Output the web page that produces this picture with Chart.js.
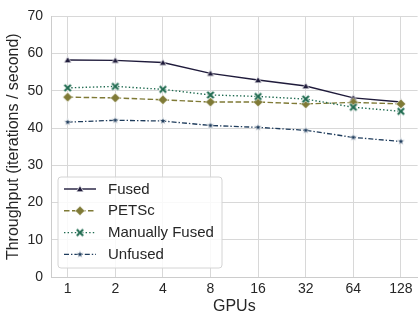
<!DOCTYPE html>
<html><head><meta charset="utf-8">
<script src="https://cdn.jsdelivr.net/npm/chart.js@4/dist/chart.umd.min.js"></script>
<style>html,body{margin:0;padding:0;background:#fff;overflow:hidden;width:420px;height:317px}canvas{display:block}</style>
</head><body>
<canvas id="c" width="424" height="317" style="width:424px;height:317px"></canvas>
<script>
const gpuLabels = ['1', '2', '4', '8', '16', '32', '64', '128'];
const seriesNames = ['Fused', 'PETSc', 'Manually Fused', 'Unfused'];
const fused = [58.3, 58.2, 57.6, 54.7, 52.9, 51.3, 48.1, 47.0];
const petsc = [48.3, 48.1, 47.6, 47.0, 47.0, 46.5, 46.9, 46.5];
const manuallyFused = [50.8, 51.2, 50.4, 48.9, 48.5, 47.8, 45.6, 44.5];
const unfused = [41.6, 42.1, 41.9, 40.7, 40.2, 39.4, 37.5, 36.4];
const yTicks = [0, 10, 20, 30, 40, 50, 60, 70];

const FONT = '"Liberation Sans", Arial, sans-serif';
const TXT = '#262626';
Chart.defaults.font.family = FONT;

function marker(kind, color) {
  const s = 16, c = document.createElement('canvas');
  c.width = s; c.height = s;
  const g = c.getContext('2d'), m = s / 2;
  g.beginPath();
  if (kind === 'tri') {
    g.moveTo(m, m - 3.4); g.lineTo(m + 3.6, m + 2.8); g.lineTo(m - 3.6, m + 2.8); g.closePath();
  } else if (kind === 'dia') {
    const r = 4.8;
    g.moveTo(m, m - r); g.lineTo(m + r, m); g.lineTo(m, m + r); g.lineTo(m - r, m); g.closePath();
  } else if (kind === 'x') {
    const a = 4.6, w = 1.25;
    const pts = [[w,a],[w,w],[a,w],[a,-w],[w,-w],[w,-a],[-w,-a],[-w,-w],[-a,-w],[-a,w],[-w,w],[-w,a]];
    const k = Math.SQRT1_2;
    pts.forEach((p, i) => {
      const x = m + (p[0] - p[1]) * k, y = m + (p[0] + p[1]) * k;
      if (i === 0) g.moveTo(x, y); else g.lineTo(x, y);
    });
    g.closePath();
  } else if (kind === 'star') {
    const R = 3.9, r = 1.6;
    for (let i = 0; i < 10; i++) {
      const ang = -Math.PI / 2 + i * Math.PI / 5, rr = i % 2 ? r : R;
      const x = m + rr * Math.cos(ang), y = m + rr * Math.sin(ang);
      if (i === 0) g.moveTo(x, y); else g.lineTo(x, y);
    }
    g.closePath();
  }
  g.fillStyle = color; g.fill();
  g.strokeStyle = '#ffffff'; g.lineWidth = 0.7; g.stroke();
  return c;
}

const styles = [
  { color: '#1f1b3b', dash: [], width: 1.4, mk: 'tri' },
  { color: '#7f7a36', dash: [5.5, 2.5], width: 1.4, mk: 'dia' },
  { color: '#1e6a4f', dash: [1.4, 2.2], width: 1.4, mk: 'x' },
  { color: '#1f3c5c', dash: [5, 2, 1.4, 2], width: 1.3, mk: 'star' }
];
const values = [fused, petsc, manuallyFused, unfused];

const datasets = values.map((arr, i) => ({
  label: seriesNames[i],
  data: arr.map((v, j) => ({ x: j, y: v })),
  borderColor: styles[i].color,
  backgroundColor: styles[i].color,
  borderWidth: styles[i].width,
  borderDash: styles[i].dash,
  pointStyle: marker(styles[i].mk, styles[i].color),
  pointRadius: 5,
  pointHoverRadius: 5,
  fill: false,
  tension: 0,
  order: values.length - i
}));

const legendPlugin = {
  id: 'customLegend',
  afterDraw(chart) {
    const ctx = chart.ctx, ca = chart.chartArea;
    const x0 = ca.left + 7, y0 = ca.bottom - 100, w = 164, h = 91, rad = 3;
    ctx.save();
    ctx.beginPath();
    ctx.moveTo(x0 + rad, y0); ctx.lineTo(x0 + w - rad, y0); ctx.arcTo(x0 + w, y0, x0 + w, y0 + rad, rad);
    ctx.lineTo(x0 + w, y0 + h - rad); ctx.arcTo(x0 + w, y0 + h, x0 + w - rad, y0 + h, rad);
    ctx.lineTo(x0 + rad, y0 + h); ctx.arcTo(x0, y0 + h, x0, y0 + h - rad, rad);
    ctx.lineTo(x0, y0 + rad); ctx.arcTo(x0, y0, x0 + rad, y0, rad); ctx.closePath();
    ctx.fillStyle = 'rgba(255,255,255,0.85)'; ctx.fill();
    ctx.strokeStyle = '#d4d4d4'; ctx.lineWidth = 1; ctx.stroke();
    chart.data.datasets.forEach((ds, i) => {
      const y = y0 + 12 + i * 21.8;
      ctx.beginPath();
      ctx.setLineDash(ds.borderDash);
      ctx.strokeStyle = ds.borderColor; ctx.lineWidth = ds.borderWidth;
      ctx.moveTo(x0 + 6, y); ctx.lineTo(x0 + 38, y); ctx.stroke();
      ctx.setLineDash([]);
      const img = ds.pointStyle;
      ctx.drawImage(img, x0 + 22 - img.width / 2, y - img.height / 2);
      ctx.fillStyle = TXT; ctx.font = '15px ' + FONT;
      ctx.textBaseline = 'middle'; ctx.textAlign = 'left';
      ctx.fillText(ds.label, x0 + 50, y + 0.5);
    });
    ctx.restore();
  }
};

new Chart(document.getElementById('c'), {
  type: 'line',
  data: { datasets },
  options: {
    responsive: false,
    animation: false,
    layout: { padding: { top: 12, left: 0, right: 1, bottom: 0 } },
    plugins: { legend: { display: false }, tooltip: { enabled: false } },
    scales: {
      x: {
        type: 'linear', min: -0.35, max: 7.35,
        afterBuildTicks: s => { s.ticks = gpuLabels.map((_, i) => ({ value: i })); },
        afterFit: s => { s.height = 40; },
        ticks: { callback: v => gpuLabels[v], font: { size: 14 }, color: TXT, padding: 4, maxRotation: 0, autoSkip: false },
        grid: { color: '#d8d8d8', lineWidth: 1, drawTicks: false },
        border: { color: '#cccccc', width: 1 },
        title: { display: true, text: 'GPUs', font: { size: 16 }, color: TXT, padding: { top: 0, bottom: 1 } }
      },
      y: {
        type: 'linear', min: 0, max: 70,
        afterBuildTicks: s => { s.ticks = yTicks.map(v => ({ value: v })); },
        afterFit: s => { s.width = 51; },
        ticks: { font: { size: 14 }, color: TXT, padding: 8 },
        grid: { color: '#d8d8d8', lineWidth: 1, drawTicks: false },
        border: { color: '#cccccc', width: 1 },
        title: { display: true, text: 'Throughput (iterations / second)', font: { size: 16 }, color: TXT, padding: { top: 4, bottom: 0 } }
      }
    }
  },
  plugins: [legendPlugin]
});
</script>
</body></html>
